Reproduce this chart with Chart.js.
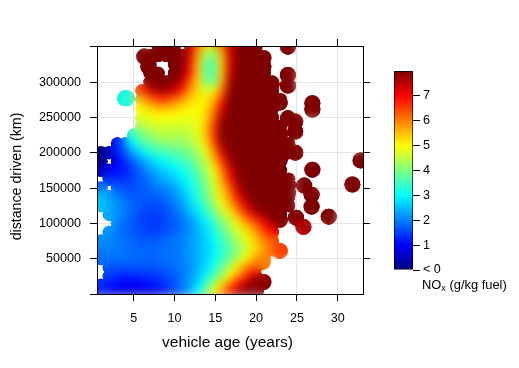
<!DOCTYPE html>
<html>
<head>
<meta charset="utf-8">
<title>NOx by vehicle age and distance</title>
<script src="https://cdn.jsdelivr.net/npm/chart.js@4"></script>
<style>
    html, body { margin: 0; padding: 0; background: #fff; }
    #wrap { position: relative; width: 519px; height: 368px; overflow: hidden; }
    #heatChart { position: absolute; left: 0; top: 0; }
    #keyChart { position: absolute; left: 380px; top: 60px; }
    #keyTitle { position: absolute; left: 422px; top: 278px; font: 12.9px "Liberation Sans", Arial, sans-serif; color: #000; white-space: nowrap; line-height: 14px; }
    #keyTitle sub { font-size: 9px; line-height: 0; vertical-align: -2px; }
</style>
</head>
<body>
<div id="wrap">
    <canvas id="heatChart" width="519" height="368"></canvas>
    <canvas id="keyChart" width="139" height="232"></canvas>
    <div id="keyTitle">NO<sub>x</sub> (g/kg fuel)</div>
</div>
<script>
const n = null;

// vehicle age (years), one per column of noxGrid
const ages = [1, 2, 3, 4, 5, 6, 7, 8, 9, 10, 11, 12, 13, 14, 15, 16, 17, 18, 19, 20, 21, 22, 23, 24, 25];

// distance driven (km), one per row of noxGrid
const distances = [350000, 337500, 325000, 312500, 300000, 287500, 275000, 262500, 250000, 237500,
    225000, 212500, 200000, 187500, 175000, 162500, 150000, 137500, 125000, 112500,
    100000, 87500, 75000, 62500, 50000, 37500, 25000, 12500, 0];

// NOx (g/kg fuel), n = no data there
const noxGrid = [
    [n, n, n, n, n, n, n, 8, 8, 8, n, 7.5, 6.2, 5.4, 5.3, 6.3, 7.5, 8, 8, 8],
    [n, n, n, n, n, n, 8, 8, 8, 8, 8, 7.4, 5.9, 4.3, 4.1, 5.6, 7.4, 8, 8, 8],
    [n, n, n, n, n, n, 8, n, n, 8, 8, 7.2, 5.6, 3.9, 3.7, 5.4, 7.3, 8, 8, 8],
    [n, n, n, n, n, n, 8, 8, n, 8, 8, 7, 5.5, 3.8, 3.6, 5.4, 7.4, 8, 8, 8, 8],
    [n, n, n, n, n, n, 8, 8, 8, 8, 7.6, 6.5, 5.4, 4, 3.8, 5.6, 7.6, 8, 8, 8, 8, 8],
    [n, n, n, n, n, 6.5, 7.3, 7.8, 7.8, 7.6, 6.9, 6, 5.3, 4.6, 4.7, 6, 7.9, 8, 8, 8, 8, 8],
    [n, n, n, n, n, 5.6, 6.2, 6.6, 6.7, 6.4, 6, 5.5, 5.2, 5.1, 5.5, 6.6, 8, 8, 8, 8, 8, 8, 8],
    [n, n, n, n, n, 5, 5.4, 5.6, 5.7, 5.5, 5.3, 5.1, 5, 5.2, 5.9, 7.2, 8, 8, 8, 8, 8, 8],
    [n, n, n, n, n, 4.8, 4.9, 5, 5, 5, 4.9, 4.9, 4.9, 5.3, 6.2, 7.6, 8, 8, 8, 8, 8, 8],
    [n, n, n, n, n, 4.4, 4.6, 4.7, 4.7, 4.7, 4.7, 4.7, 4.9, 5.4, 6.5, 7.9, 8, 8, 8, 8, 8, 8, 8],
    [n, n, n, n, 3.4, 4, 4.2, 4.4, 4.5, 4.5, 4.4, 4.5, 4.8, 5.4, 6.6, 8, 8, 8, 8, 8, 8, 8, 8],
    [n, n, 1.2, 2, 3, 3.5, 3.8, 4, 4.1, 4.2, 4.2, 4.3, 4.6, 5.2, 6.4, 7.8, 8, 8, 8, 8, 8, 8, 8, 8],
    [0, 0.4, 1.2, 1.6, 2.4, 2.8, 3.2, 3.5, 3.6, 3.7, 3.8, 4, 4.3, 4.9, 5.9, 7.3, 8, 8, 8, 8, 8, 8, 8, 8],
    [0, n, 0.8, 1.3, 1.8, 2.2, 2.6, 2.9, 3.1, 3.3, 3.5, 3.7, 4, 4.6, 5.4, 6.7, 7.8, 8, 8, 8, 8, 8, 8],
    [0.5, 0.8, 1, 1.2, 1.5, 1.8, 2.2, 2.5, 2.7, 2.9, 3.1, 3.4, 3.8, 4.3, 5, 6.1, 7.3, 8, 8, 8, 8, 8, 8],
    [n, 1.4, 1.3, 1.3, 1.5, 1.7, 1.9, 2.2, 2.4, 2.6, 2.9, 3.2, 3.6, 4.1, 4.8, 5.7, 6.9, 7.9, 8, 8, 8, 8, 8, 8],
    [1.9, n, 1.7, 1.6, 1.6, 1.7, 1.8, 2, 2.1, 2.3, 2.6, 3, 3.4, 3.9, 4.6, 5.4, 6.4, 7.6, 8, 8, 8, 8, 8, 8],
    [2.5, 2.3, 2, 1.8, 1.7, 1.7, 1.7, 1.8, 1.9, 2.1, 2.4, 2.8, 3.3, 3.8, 4.5, 5.2, 6, 7.1, 7.9, 8, 8, 8, 8, 8],
    [2.6, 2.4, 2.2, 2, 1.8, 1.7, 1.6, 1.6, 1.7, 1.9, 2.2, 2.6, 3.1, 3.6, 4.2, 4.9, 5.6, 6.5, 7.4, 8, 8, 8, 8, 8],
    [n, 2.3, 2.2, 2, 1.8, 1.6, 1.5, 1.5, 1.6, 1.8, 2, 2.4, 2.8, 3.3, 3.8, 4.5, 5.1, 5.9, 6.7, 7.4, 7.9, 8, 8],
    [n, n, 2.1, 1.9, 1.7, 1.5, 1.45, 1.45, 1.5, 1.7, 1.9, 2.1, 2.5, 2.9, 3.4, 4, 4.5, 5.1, 5.8, 6.4, 7, 7.6],
    [n, 2.2, 2, 1.8, 1.7, 1.6, 1.5, 1.5, 1.6, 1.7, 1.9, 2.1, 2.4, 2.7, 3.2, 3.7, 4.2, 4.7, 5.2, 5.7, 6.4, 7],
    [2.1, 2.1, 2, 1.9, 1.8, 1.7, 1.7, 1.7, 1.8, 1.9, 2, 2.2, 2.4, 2.6, 3, 3.5, 3.9, 4.4, 4.9, 5.4, 5.9, 6.3],
    [2, 2, 2, 1.9, 1.9, 1.8, 1.8, 1.8, 1.9, 1.9, 2, 2.2, 2.4, 2.6, 2.9, 3.3, 3.7, 4.1, 4.6, 5.2, 5.7, 6],
    [1.9, 1.9, 1.9, 1.9, 1.8, 1.8, 1.8, 1.8, 1.9, 1.9, 2, 2.2, 2.4, 2.6, 3, 3.4, 3.8, 4.4, 5, 5.5, 5.9],
    [n, 1.7, 1.7, 1.7, 1.7, 1.7, 1.7, 1.7, 1.8, 1.8, 2, 2.1, 2.4, 2.7, 3.2, 3.7, 4.4, 5.2, 5.8, 6.3],
    [n, 1.5, 1.4, 1.3, 1.3, 1.4, 1.4, 1.5, 1.6, 1.7, 1.9, 2.1, 2.5, 2.9, 3.5, 4.2, 5, 5.8, 6.6, 7.3],
    [1.4, 1.2, 1.1, 1, 1, 1, 1.1, 1.2, 1.4, 1.6, 1.9, 2.2, 2.7, 3.4, 4.3, 5.2, 6.1, 6.9, 7.6, 8],
    [1.3, 1, 0.9, 0.8, 0.8, 0.8, 0.9, 1, 1.2, 1.5, 1.8, 2.3, 3, 3.9, 5, 5.9, 6.8, 7.6, 8, 8]
];

// isolated measurements around the edge of the map: age, distance, NOx
const blobAges = [23.9, 20.9, 20.9, 23.9, 23.9, 22.9, 21.9, 26.9, 26.9, 23.9, 24.8, 24.8, 24.8, 22.9, 22.9, 26.9,
    32.8, 31.8, 25.9, 26.8, 26.8, 28.9, 23.9, 23.9, 23.7, 24.9, 25.8, 22.9, 22.9, 20.8, 20.9, 20, 3.95, 4.15, 6.3, 6.8];
const blobDistances = [350000, 334000, 322000, 310000, 295000, 271000, 297000, 270000, 261000, 248600, 244000, 230000,
    200000, 226000, 190000, 176000, 189000, 155000, 153500, 140600, 123600, 109400, 155000, 143500, 129000, 108000,
    95000, 105000, 61000, 45500, 17000, 5700, 277000, 277000, 336000, 322000];
const blobValues = [8, 8, 8, 8, 8, 8, 8, 8, 8, 8, 8, 8, 8, 8, 8, 8,
    8, 8, 8, 8, 8, 8, 8, 8, 8, 8, 7.6, 8, 6.5, 6, 7.9, 7.9, 2.8, 3.3, 8, 8];

const xTicks = [5, 10, 15, 20, 25, 30];
const yTicks = [0, 50000, 100000, 150000, 200000, 250000, 300000, 350000];
const keyTicks = [0, 1, 2, 3, 4, 5, 6, 7];
const jetStops = ['#00007f', '#0000ff', '#007fff', '#00ffff', '#7fff7f', '#ffff00', '#ff7f00', '#ff0000', '#7f0000'];

const FONT = '"Liberation Sans", Arial, sans-serif';

function hexToRgb(hex) {
    return [1, 3, 5].map(i => parseInt(hex.slice(i, i + 2), 16));
}

function jetColor(value) {
    const v = Math.max(0, Math.min(8, value));
    const i = Math.min(7, Math.floor(v));
    const a = hexToRgb(jetStops[i]);
    const b = hexToRgb(jetStops[i + 1]);
    const t = v - i;
    return 'rgb(' + a.map((c, k) => Math.round(c + (b[k] - c) * t)).join(',') + ')';
}

// Build the point table from the arrays above
const points = [];
const colors = [];
const radii = [];
distances.forEach((km, r) => {
    noxGrid[r].forEach((v, c) => {
        if (v === null) return;
        points.push({ x: ages[c], y: km });
        colors.push(jetColor(v));
        radii.push(6.5);
    });
});
blobAges.forEach((age, i) => {
    points.push({ x: age, y: blobDistances[i] });
    colors.push(jetColor(blobValues[i]));
    radii.push(8);
});

// Soften the colour steps, but keep the hard scalloped outline of the points
const smoothField = {
    id: 'smoothField',
    afterDatasetDraw(chart, args) {
        const ctx = chart.ctx;
        const area = chart.chartArea;
        const outline = new Path2D();
        args.meta.data.forEach(pt => {
            const r = pt.options.radius;
            outline.moveTo(pt.x + r, pt.y);
            outline.arc(pt.x, pt.y, r, 0, Math.PI * 2);
        });
        ctx.save();
        ctx.beginPath();
        ctx.rect(area.left, area.top, area.right - area.left, area.bottom - area.top);
        ctx.clip();
        ctx.clip(outline);
        ctx.filter = 'blur(2.5px)';
        for (let pass = 0; pass < 3; pass++) {
            ctx.drawImage(chart.canvas, 0, 0);
        }
        ctx.restore();
    }
};

// Axis titles sit a little off the plot centre in the original
const axisTitles = {
    id: 'axisTitles',
    afterDraw(chart) {
        const ctx = chart.ctx;
        ctx.save();
        ctx.fillStyle = '#000';
        ctx.textAlign = 'center';
        ctx.textBaseline = 'middle';
        ctx.font = '15.5px ' + FONT;
        ctx.fillText('vehicle age (years)', 227.5, 343);
        ctx.translate(17, 176.5);
        ctx.rotate(-Math.PI / 2);
        ctx.font = '14.2px ' + FONT;
        ctx.fillText('distance driven (km)', 0, 0);
        ctx.restore();
    }
};

const blackBorder = { display: true, color: '#000', width: 1, z: 1 };

new Chart(document.getElementById('heatChart'), {
    type: 'scatter',
    data: {
        datasets: [{
            data: points,
            pointBackgroundColor: colors,
            pointBorderWidth: 0,
            pointRadius: radii,
            clip: 0
        }]
    },
    plugins: [smoothField, axisTitles],
    options: {
        responsive: false,
        animation: false,
        layout: { padding: 0 },
        plugins: { legend: { display: false }, tooltip: { enabled: false } },
        scales: {
            x: {
                type: 'linear',
                position: 'bottom',
                min: 0.51,
                max: 33.1,
                afterBuildTicks: s => { s.ticks = xTicks.map(v => ({ value: v })); },
                afterFit: s => { s.height = 74; },
                border: blackBorder,
                grid: { color: '#e5e5e5', lineWidth: 1, tickColor: '#000', tickLength: 7, tickWidth: 1 },
                ticks: { color: '#000', font: { family: FONT, size: 12.6 }, padding: 10, maxRotation: 0 }
            },
            x2: {
                type: 'linear',
                position: 'top',
                min: 0.51,
                max: 33.1,
                afterBuildTicks: s => { s.ticks = xTicks.map(v => ({ value: v })); },
                afterFit: s => { s.height = 46; },
                border: blackBorder,
                grid: { drawOnChartArea: false, tickColor: '#000', tickLength: 7 },
                ticks: { display: false }
            },
            y: {
                type: 'linear',
                position: 'left',
                min: 0,
                max: 351000,
                afterBuildTicks: s => { s.ticks = yTicks.map(v => ({ value: v })); },
                afterFit: s => { s.width = 97; },
                border: blackBorder,
                grid: { color: '#e5e5e5', lineWidth: 1, tickColor: '#000', tickLength: 7, tickWidth: 1 },
                ticks: {
                    color: '#000',
                    font: { family: FONT, size: 12.6 },
                    padding: 9,
                    callback: v => (v === 0 || v === 350000) ? '' : String(v)
                }
            },
            y2: {
                type: 'linear',
                position: 'right',
                min: 0,
                max: 351000,
                afterBuildTicks: s => { s.ticks = yTicks.slice(1, 7).map(v => ({ value: v })); },
                afterFit: s => { s.width = 156; },
                border: blackBorder,
                grid: { drawOnChartArea: false, tickColor: '#000', tickLength: 7 },
                ticks: { display: false }
            }
        }
    }
});

// Colour key: one floating bar from 0 to 8 painted with the jet stops
new Chart(document.getElementById('keyChart'), {
    type: 'bar',
    data: {
        labels: ['NOx'],
        datasets: [{
            data: [[0, 8]],
            barPercentage: 1,
            categoryPercentage: 1,
            borderColor: '#000',
            borderWidth: 1,
            borderSkipped: false,
            backgroundColor(context) {
                const { chart } = context;
                const y = chart.scales.y;
                if (!chart.chartArea || !y || !isFinite(y.getPixelForValue(0))) return '#000';
                const g = chart.ctx.createLinearGradient(0, y.getPixelForValue(0), 0, y.getPixelForValue(8));
                jetStops.forEach((c, i) => g.addColorStop(i / 8, c));
                return g;
            }
        }]
    },
    options: {
        responsive: false,
        animation: false,
        layout: { padding: { left: 14, top: 11, bottom: 22, right: 0 } },
        plugins: { legend: { display: false }, tooltip: { enabled: false } },
        scales: {
            x: { display: false },
            y: {
                position: 'right',
                min: 0,
                max: 8,
                afterBuildTicks: s => { s.ticks = keyTicks.map(v => ({ value: v })); },
                afterFit: s => { s.width = 106; },
                border: { display: false },
                grid: { drawOnChartArea: false, tickColor: '#000', tickLength: 7 },
                ticks: {
                    color: '#000',
                    font: { family: FONT, size: 12.6 },
                    padding: 3,
                    callback: v => v === 0 ? '< 0' : String(v)
                }
            }
        }
    }
});
</script>
</body>
</html>
